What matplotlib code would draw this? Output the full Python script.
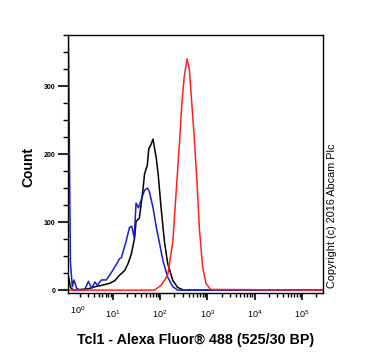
import matplotlib.pyplot as plt
import numpy as np

plt.rcParams['font.family'] = ['Liberation Sans', 'DejaVu Sans']
plt.rcParams['mathtext.fontset'] = 'custom'
plt.rcParams['mathtext.rm'] = 'Liberation Sans'

# log10 of intensity / count
black_log = [0.02, 0.06, 0.10, 0.16, 0.48, 0.62, 0.76, 0.93, 1.04, 1.14, 1.25, 1.32, 1.39,
             1.46, 1.49, 1.56, 1.64, 1.67, 1.73, 1.76, 1.80, 1.85, 1.92, 1.96, 2.02,
             2.09, 2.16, 2.27, 2.37, 2.50, 5.45]
black_cnt = [0, 20, 4, 0, 2, 5, 7, 10, 14, 22, 29, 39, 53,
             77, 101, 106, 150, 171, 184, 208, 213, 222, 193, 169, 121,
             72, 39, 14, 4, 0, 0]

blue_log = [0.02, 0.05, 0.10, 0.14, 0.175, 0.23, 0.30, 0.40, 0.48, 0.55, 0.62, 0.67, 0.72,
            0.76, 0.86, 0.93, 1.04, 1.14, 1.18, 1.28, 1.35, 1.40, 1.45, 1.49, 1.54,
            1.60, 1.67, 1.73, 1.77, 1.85, 1.92, 1.99, 2.06, 2.16, 2.27, 2.37, 5.45]
blue_cnt = [0, 420, 40, 5, 15, 3, 0, 0, 13, 3, 12, 7, 12,
            15, 15, 22, 34, 46, 48, 72, 92, 94, 77, 128, 121,
            133, 147, 150, 145, 121, 92, 68, 43, 19, 5, 0, 0]

red_log = [0.02, 1.88, 2.02, 2.16, 2.27, 2.34, 2.41, 2.46, 2.51, 2.57, 2.62, 2.67,
           2.72, 2.78, 2.83, 2.90, 2.97, 3.07, 5.45]
red_cnt = [0, 0, 7, 22, 72, 145, 217, 275, 314, 340, 324, 275,
           227, 160, 92, 34, 10, 1, 0]

fig = plt.figure(figsize=(3.7, 3.58), dpi=100)
ax = fig.add_axes([0.184, 0.182, 0.689, 0.72])

ax.plot(10 ** np.array(black_log), black_cnt, color='black', lw=1.1)
ax.plot(10 ** np.array(blue_log), blue_cnt, color='#1c1ccc', lw=1.1)
ax.plot(10 ** np.array(red_log), red_cnt, color='#ff2020', lw=1.1)

ax.set_xscale('log')
ax.set_xlim(10 ** 0.05, 10 ** 5.45)
ax.set_ylim(-4, 369)

ax.set_xticks([10, 100, 1000, 10000, 100000])
ax.set_xticklabels([r'$\mathregular{10^{%d}}$' % i for i in range(1, 6)], fontsize=6.5)
ax.text(10 ** 0.25, -0.045, r'$\mathregular{10^{0}}$', fontsize=6.5, ha='center', va='top',
        transform=ax.get_xaxis_transform())
ax.tick_params(axis='x', which='major', length=5, width=1.2, pad=6)
ax.tick_params(axis='x', which='minor', length=3, width=1)

ax.set_yticks([0, 100, 200, 300])
ax.set_yticks(np.arange(0, 376, 25), minor=True)
ax.set_yticklabels(['0', '100', '200', '300'], fontsize=5, fontweight='bold')
ax.tick_params(axis='y', which='major', length=7, width=1.2, pad=2)
ax.tick_params(axis='y', which='minor', length=3.5, width=1)

for s in ax.spines.values():
    s.set_linewidth(1)

ax.set_xlabel('Tcl1 - Alexa Fluor® 488 (525/30 BP)', fontsize=10.3, fontweight='bold')
ax.xaxis.set_label_coords(0.5, -0.155)
ax.set_ylabel('Count', fontsize=10, fontweight='bold')
ax.yaxis.set_label_coords(-0.13, 0.49)

fig.text(0.897, 0.196, 'Copyright (c) 2016 Abcam Plc', rotation=90, fontsize=7.8,
         ha='center', va='bottom')

fig.savefig('out.png', dpi=100)
